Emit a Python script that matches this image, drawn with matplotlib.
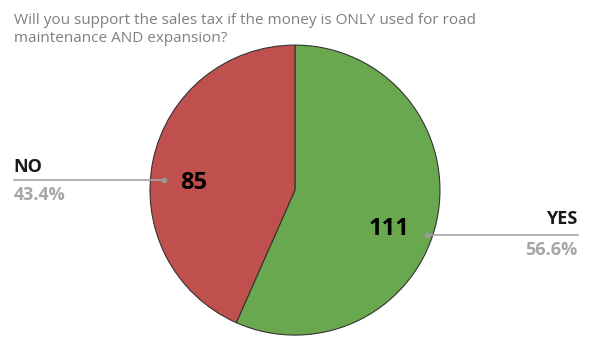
import matplotlib.pyplot as plt

# survey answers
labels = ["YES", "NO"]
counts = [111, 85]
percents = ["56.6%", "43.4%"]
colors = ["#6AA84F", "#C0504D"]

plt.rcParams['font.family'] = ['Open Sans', 'DejaVu Sans']

fig = plt.figure(figsize=(5.9, 3.6), dpi=100)
ax = fig.add_axes([0.5 - 0.2458, 0.472 - 0.4028, 0.4915, 0.8056])

wedges, _ = ax.pie(counts, colors=colors, startangle=90, counterclock=False,
                   radius=1, wedgeprops=dict(edgecolor="#333333", linewidth=0.8))
ax.set_xlim(-1, 1)
ax.set_ylim(-1, 1)
ax.set_axis_off()

# counts inside the slices
ax.text(0.65, -0.27, str(counts[0]), ha="center", va="center",
        fontsize=17, fontweight="bold", color="black")
ax.text(-0.70, 0.05, str(counts[1]), ha="center", va="center",
        fontsize=17, fontweight="bold", color="black")

# leader lines and outside labels
line_col = "#A6A6A6"
ax.plot([0.91, 1.95], [-0.31, -0.31], color=line_col, lw=1.2, clip_on=False)
ax.plot([0.91], [-0.31], "o", color="#999999", ms=3, clip_on=False)
ax.text(1.95, -0.26, labels[0], ha="right", va="bottom", fontsize=13,
        fontweight="bold", color="#1a1a1a")
ax.text(1.95, -0.35, percents[0], ha="right", va="top", fontsize=13,
        fontweight="bold", color="#A6A6A6")

ax.plot([-0.90, -1.94], [0.07, 0.07], color=line_col, lw=1.2, clip_on=False)
ax.plot([-0.90], [0.07], "o", color="#999999", ms=3, clip_on=False)
ax.text(-1.94, 0.10, labels[1], ha="left", va="bottom", fontsize=13,
        fontweight="bold", color="#1a1a1a")
ax.text(-1.94, 0.03, percents[1], ha="left", va="top", fontsize=13,
        fontweight="bold", color="#A6A6A6")

fig.text(14 / 590, 1 - 13 / 360,
         "Will you support the sales tax if the money is ONLY used for road\nmaintenance AND expansion?",
         ha="left", va="top", fontsize=11, color="#7F7F7F", linespacing=1.3)

fig.savefig("out.png", dpi=100)
